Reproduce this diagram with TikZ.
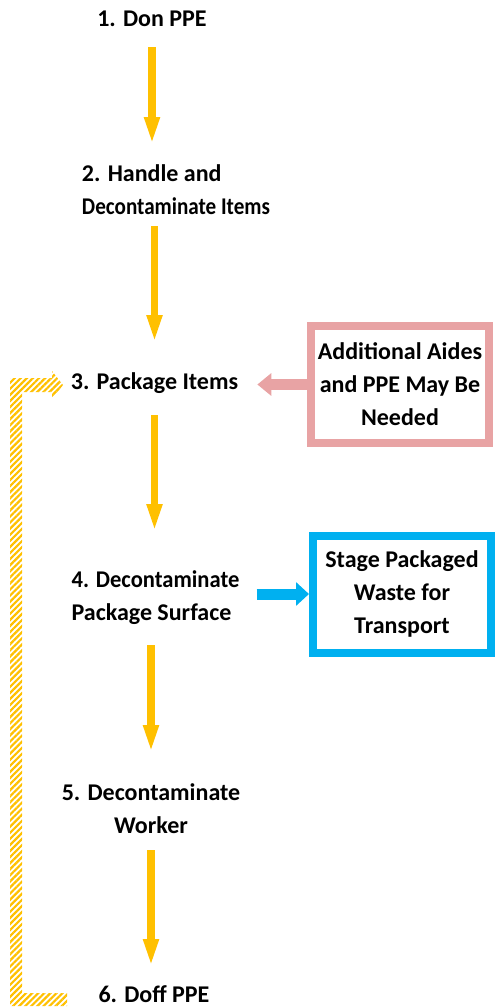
\documentclass[tikz,border=0pt]{standalone}
\usepackage{fontspec}
\usepackage{graphicx}
\setmainfont{Carlito}
\usetikzlibrary{arrows.meta,patterns.meta}
\definecolor{flowyellow}{HTML}{FFC000}
\definecolor{aidepink}{HTML}{E8A3A4}
\definecolor{wasteblue}{HTML}{00B0F0}
\tikzstyle{stage}=[font=\bfseries\fontsize{24}{33}\selectfont,inner sep=0pt]
\tikzstyle{note box}=[stage,draw,line width=8pt,minimum width=178pt,minimum height=117pt,align=center]
\tikzstyle{flow}=[draw=flowyellow,line width=7.5pt,-{Triangle[length=28pt,width=14pt]}]
\tikzstyle{aide flow}=[draw=aidepink,line width=11pt,-{Triangle[length=14pt,width=22pt]}]
\tikzstyle{waste flow}=[draw=wasteblue,line width=11pt,-{Triangle[length=13pt,width=23pt]}]

\begin{document}
\begin{tikzpicture}[x=1pt,y=-1pt]
        \useasboundingbox (0,0) rectangle (495,1007);
        % steps
        \node[stage] (n1) at (152,19) {1. Don PPE};
        \node[stage,align=left] (n2) at (176,189.5) {2. Handle and\\\scalebox{0.88}[1]{Decontaminate Items}};
        \node[stage] (n3) at (154.5,383) {3. Package Items};
        \node[stage,align=left] (n4) at (155.5,598) {\scalebox{0.94}[1]{4. Decontaminate}\\Package Surface};
        \node[stage,align=center] (n5) at (151,808.5) {5. Decontaminate\\Worker};
        \node[stage] (n6) at (154,994) {6. Doff PPE};
        % side boxes
        \node[note box,draw=aidepink] (aides) at (400,384.5) {Additional Aides\\and PPE May Be\\Needed};
        \node[note box,draw=wasteblue] (waste) at (402,594) {Stage Packaged\\Waste for\\Transport};
        % main flow
        \draw[flow,shorten <=28pt,shorten >=44.5pt] (n1.center) -- (n1.center |- n2.center);
        \draw[flow,shorten <=36.5pt,shorten >=40pt] (n3.center |- n2.center) -- (n3.center);
        \draw[flow,shorten <=32pt,shorten >=66pt] (n3.center) -- (n3.center |- n4.center);
        \draw[flow,shorten <=47pt,shorten >=55.5pt] (n5.center |- n4.center) -- (n5.center);
        \draw[flow,shorten <=41.5pt,shorten >=27pt] (n5.center) -- (n5.center |- n6.center);
        \draw[aide flow,shorten >=19pt] (aides.west) -- (aides.west -| n3.east);
        \draw[waste flow,shorten <=17pt] (n4.east |- waste) -- (waste.west);
        % loop back from 6 to 3
        \fill[pattern={Lines[angle=45,distance=4.3pt,line width=2.2pt]},pattern color=flowyellow]
          (10,378) -- (52,378) -- (52,371) -- (63,385) -- (52,399) -- (52,392) -- (22,392)
          -- (22,993) -- (67,993) -- (67,1006) -- (10,1006) -- cycle;
      \end{tikzpicture}
\end{document}
